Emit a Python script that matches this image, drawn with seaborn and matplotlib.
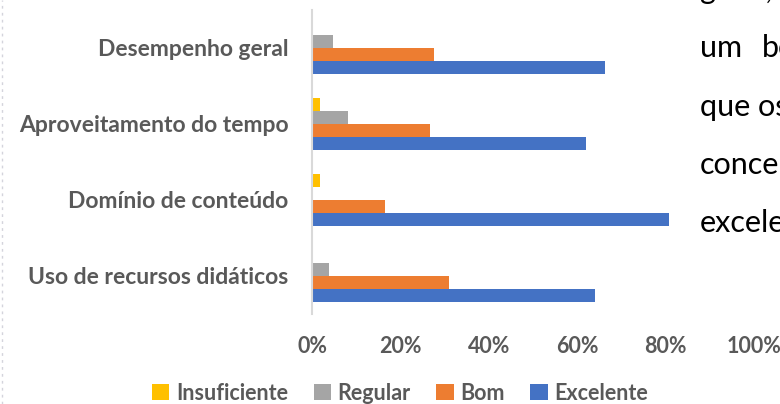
import matplotlib
matplotlib.use("Agg")
import matplotlib.pyplot as plt
import seaborn as sns
import pandas as pd
from matplotlib.ticker import PercentFormatter
from matplotlib.patches import Patch
from matplotlib.lines import Line2D

categories = ["Desempenho geral", "Aproveitamento do tempo", "Domínio de conteúdo", "Uso de recursos didáticos"]
levels = ["Insuficiente", "Regular", "Bom", "Excelente"]
insuficiente = [0.0, 1.9, 1.9, 0.0]
regular = [4.8, 8.1, 0.0, 3.9]
bom = [27.5, 26.8, 16.6, 31.1]
excelente = [66.2, 61.9, 80.7, 64.1]
x_ticks = [0, 20, 40, 60, 80, 100]
colors = ["#FFC000", "#A5A5A5", "#ED7D31", "#4472C4"]

series = dict(zip(levels, [insuficiente, regular, bom, excelente]))
rows = []
for lev in levels:
    for cat, v in zip(categories, series[lev]):
        rows.append({"cat": cat, "nivel": lev, "val": v})
df = pd.DataFrame(rows)

sns.set_theme(style="white")
plt.rcParams["font.family"] = ["Lato", "DejaVu Sans"]
text_gray = "#595959"

W, H = 780, 404
fig = plt.figure(figsize=(W / 100, H / 100), dpi=100)
x0, x1 = 312, 754
y_top, y_bot = 10, 314
ax = fig.add_axes([x0 / W, (H - y_bot) / H, (x1 - x0) / W, (y_bot - y_top) / H])

sns.barplot(data=df, y="cat", x="val", hue="nivel", order=categories, hue_order=levels,
            palette=colors, width=0.68, orient="h", ax=ax, legend=False,
            saturation=1, linewidth=0)

ax.set_xlim(0, 100)
ax.set_ylim(3.5, -0.5)
ax.set_xticks(x_ticks)
ax.xaxis.set_major_formatter(PercentFormatter(decimals=0))
ax.set_xlabel("")
ax.set_ylabel("")
for s in ["top", "right", "bottom"]:
    ax.spines[s].set_visible(False)
ax.spines["left"].set_color("#D9D9D9")
ax.spines["left"].set_linewidth(1.5)
ax.tick_params(axis="x", length=0, pad=16, labelsize=15.5, labelcolor=text_gray)
ax.tick_params(axis="y", length=0, pad=17, labelsize=16.5, labelcolor=text_gray)
for t in ax.get_xticklabels() + ax.get_yticklabels():
    t.set_fontweight("bold")
ax.grid(False)

handles = [Patch(facecolor=c, edgecolor="none") for c in colors]
leg = fig.legend(handles, levels, loc="center", bbox_to_anchor=(400 / W, (H - 393) / H),
                 ncol=4, frameon=False, handlelength=0.8, handleheight=0.8,
                 handletextpad=0.3, columnspacing=1.2,
                 prop={"size": 15.5, "weight": "bold"})
for t in leg.get_texts():
    t.set_color(text_gray)

# surrounding document text (cropped at the image edge, as in the source)
body = {"size": 22, "color": "black", "family": ["Lato", "DejaVu Sans"]}
fig.text(700 / W, (H + 1) / H, "geral,", va="baseline", ha="left", **body)
fig.text(700 / W, (H - 57) / H, "um", va="baseline", ha="left", **body)
fig.text(762 / W, (H - 57) / H, "bom", va="baseline", ha="left", **body)
fig.text(700 / W, (H - 116) / H, "que os", va="baseline", ha="left", **body)
fig.text(700 / W, (H - 174) / H, "concentram", va="baseline", ha="left", **body)
fig.text(700 / W, (H - 232) / H, "excelente", va="baseline", ha="left", **body)

fig.add_artist(Line2D([1.5 / W, 1.5 / W], [0, 1], transform=fig.transFigure,
                      color="#D4D4DC", lw=1, linestyle=(0, (2, 3))))

fig.savefig("out.png", dpi=100)
